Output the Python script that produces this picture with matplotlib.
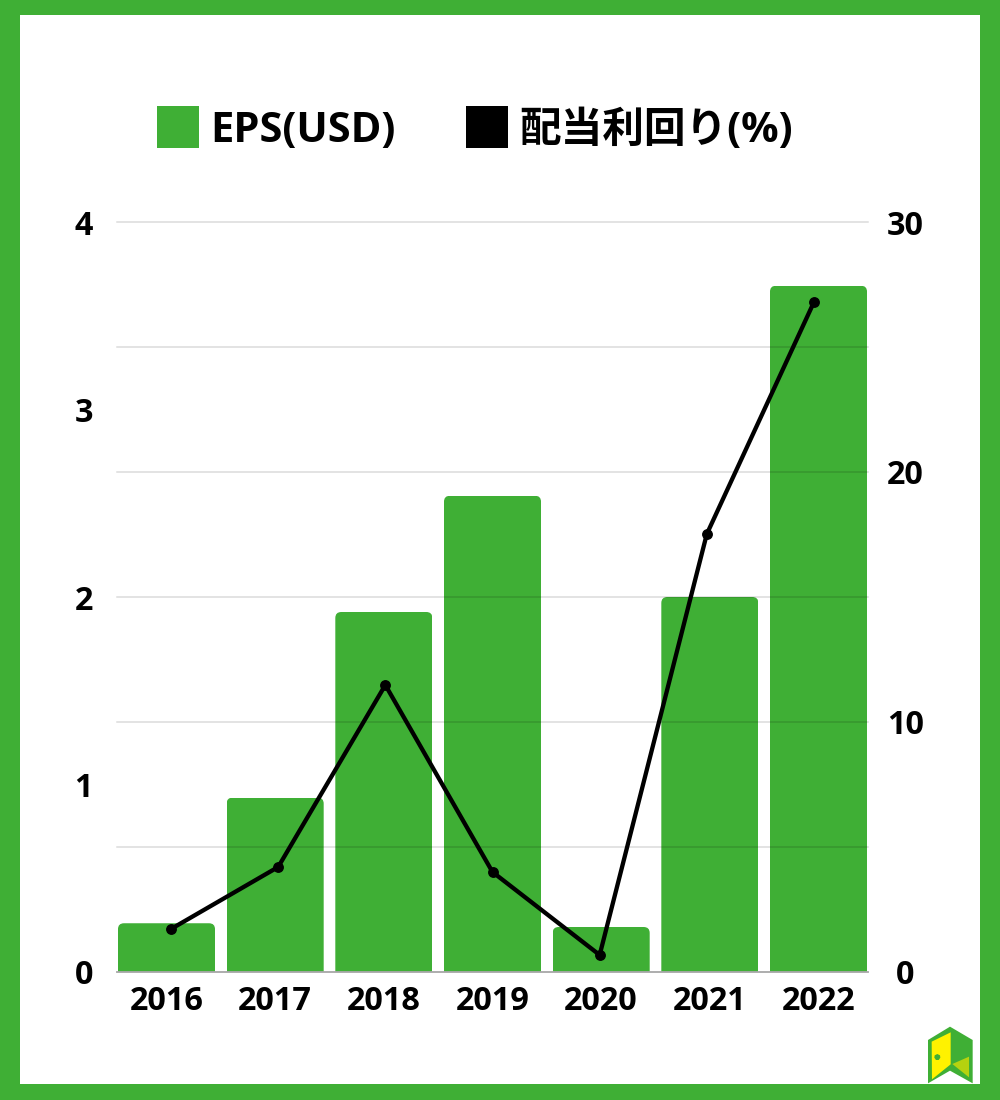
import matplotlib
matplotlib.use("Agg")
import matplotlib.pyplot as plt
from matplotlib.patches import FancyBboxPatch, Patch, Polygon, Rectangle

plt.rcParams['font.family'] = ['Open Sans', 'Noto Sans CJK JP', 'DejaVu Sans']

years = ['2016', '2017', '2018', '2019', '2020', '2021', '2022']
eps = [0.26, 0.93, 1.92, 2.54, 0.24, 2.00, 3.66]
dividend_yield = [1.72, 4.2, 11.48, 4.0, 0.68, 17.52, 26.8]
left_ticks = [0, 1, 2, 3, 4]
right_ticks = [0, 5, 10, 15, 20, 25, 30]
series_names = ['EPS(USD)', '配当利回り(%)']

GREEN = '#3FAF35'
W, H = 1000, 1100
fig = plt.figure(figsize=(W / 100, H / 100), dpi=100, facecolor='white')

# frame
fig.patches.append(Rectangle((0, 0), 1, 1, transform=fig.transFigure, fc=GREEN, ec='none', zorder=-3))
fig.patches.append(Rectangle((20 / W, (H - 1084) / H), 960 / W, 1069 / H,
                             transform=fig.transFigure, fc='white', ec='none', zorder=-2))

L, R, T, B = 117, 868, 222, 972
rect = [L / W, (H - B) / H, (R - L) / W, (B - T) / H]
ax = fig.add_axes(rect, facecolor='none')
ax.set_xlim(-0.4555, 6.4555)
ax.set_ylim(0, 4)
xs = list(range(len(years)))
bars = ax.bar(xs, eps, width=0.893, color=GREEN, zorder=2)

px_x = 6.911 / (R - L)
px_y = 4 / (B - T)
for b in bars:
    clip = FancyBboxPatch((b.get_x(), -0.2), b.get_width(), b.get_height() + 0.2,
                          boxstyle=f'round,pad=0,rounding_size={6 * px_x}',
                          mutation_aspect=px_y / px_x, transform=ax.transData)
    b.set_clip_path(clip)

ax.set_xticks(xs, years)
ax.set_yticks(left_ticks)
ax.tick_params(length=0)
ax.tick_params(axis='x', pad=9)
ax.tick_params(axis='y', pad=24)
for s in ax.spines.values():
    s.set_visible(False)
for lab in ax.get_xticklabels() + ax.get_yticklabels():
    lab.set_fontsize(23.3)
    lab.set_fontweight('bold')
    lab.set_color('#000000')
for lab in ax.get_yticklabels():
    lab.set_horizontalalignment('center')

ax2 = fig.add_axes(rect, facecolor='none')
ax2.set_xlim(-0.504, 6.504)
ax2.set_ylim(0, 30)
ax2.set_xticks([])
ax2.yaxis.tick_right()
ax2.set_yticks(right_ticks, [str(v) if v % 10 == 0 else '' for v in right_ticks])
ax2.tick_params(length=0, pad=27)
ax2.grid(axis='y', color='black', alpha=0.14, linewidth=1.1, zorder=1)
ax2.set_axisbelow(True)
for gl in ax2.get_ygridlines():
    gl.set_clip_on(False)
for s in ax2.spines.values():
    s.set_visible(False)
for lab in ax2.get_yticklabels():
    lab.set_fontsize(23.3)
    lab.set_fontweight('bold')
    lab.set_color('#000000')
    lab.set_horizontalalignment('center')
ax2.axhline(0, color='#AAAAAA', lw=1.3, zorder=3, clip_on=False)
ax2.plot(xs, dividend_yield, color='black', lw=3.1, marker='o', ms=6.8, zorder=5, clip_on=False)

handles = [Patch(fc=GREEN, ec='none'), Patch(fc='black', ec='none')]
fig.legend(handles, series_names, loc='center', bbox_to_anchor=(475 / W, (H - 129) / H), ncol=2,
           frameon=False, handlelength=1.01, handleheight=1.174, handletextpad=0.264,
           columnspacing=1.7, prop={'size': 30, 'weight': 'bold'})

# logo
def px(pts):
    return [(x / W, (H - y) / H) for x, y in pts]
def z(pts):
    return [(900 + x / 3, 1000 + y / 3) for x, y in pts]
fig.patches.append(Polygon(px(z([(84, 120), (150, 80), (218, 120), (218, 250), (150, 212), (84, 250)])),
                           transform=fig.transFigure, fc=GREEN, ec='none', zorder=3))
fig.patches.append(Polygon(px(z([(95, 125), (152, 97), (152, 193), (96, 238)])),
                           transform=fig.transFigure, fc='#FFF200', ec='none', zorder=4))
fig.patches.append(Polygon(px(z([(157, 192), (207, 170), (207, 232)])),
                           transform=fig.transFigure, fc='#B5D20F', ec='none', zorder=4))
fig.patches.append(Polygon(px(z([(104, 166), (112, 162), (120, 166), (121, 173), (116, 180), (108, 180), (103, 173)])),
                           transform=fig.transFigure, fc=GREEN, ec='none', zorder=5))

fig.savefig('out.png', dpi=100)
